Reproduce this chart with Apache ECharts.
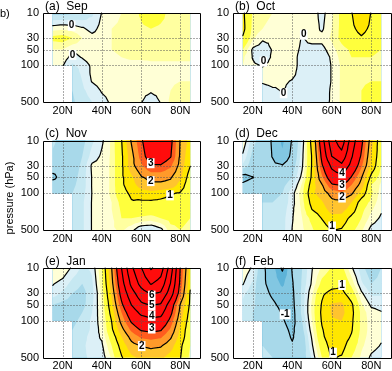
<!DOCTYPE html>
<html><head><meta charset="utf-8">
<script src="https://cdn.jsdelivr.net/npm/echarts@6/dist/echarts.min.js"></script>
<style>html,body{margin:0;padding:0;background:#fff}#c{width:392px;height:371px}</style>
</head><body><div id="c"></div>
<script>
const N = null;
const lats = [15,20,25,30,35,40,45,50,55,60,65,70,75,80,85];
const levels = [10,20,30,50,70,100,150,200,300,500];
const latTicks = [20,40,60,80];
const presTicks = [10,30,50,100,500];
const presGrid = [30,50,100];
const contourLevels = [-3,-2,-1,0,1,2,3,4,5,6,7,8,9];
const shadeLevels = [-2,-1.5,-1,-0.5,-0.25,0,0.25,0.5,1,1.5,2,2.5,3];
const shadeColors = ['#3d9fcc','#5db3d8','#82c7e2','#a8d9ea','#c6e8f2','#dcf0f7','#ffffd6','#ffffa0','#ffff3c','#ffe600','#ffc42e','#ff9a2a','#ff5c1e','#ff0c0c'];

const sep = [
 [-0.6,-0.6,-0.55,-0.5,-0.3,0.01,0.15,0.25,0.35,0.55,0.7,0.6,0.4,0.3,0.3],
 [0.15,0.2,0.15,0.05,-0.1,0.1,0.25,0.3,0.35,0.45,0.5,0.45,0.4,0.35,0.3],
 [0.6,0.65,0.5,0.25,0.1,0.15,0.25,0.3,0.35,0.4,0.4,0.4,0.35,0.3,0.3],
 [0.25,0.25,0.05,0.1,0.15,0.2,0.25,0.3,0.3,0.35,0.35,0.35,0.35,0.3,0.3],
 [0.2,0.15,-0.1,0.02,0.15,0.2,0.2,0.25,0.3,0.3,0.3,0.3,0.3,0.3,0.3],
 [0.1,0.02,-0.3,-0.15,0.05,0.15,0.15,0.15,0.15,0.15,0.2,0.2,0.2,0.2,0.2],
 [N,N,-0.5,-0.2,0.05,0.15,0.15,0.15,0.15,0.15,0.15,0.15,0.2,0.2,0.2],
 [N,N,-0.5,-0.25,0.02,0.12,0.15,0.15,0.15,0.12,0.12,0.15,0.2,0.25,0.25],
 [N,N,-0.5,-0.3,-0.15,0.03,0.1,0.15,0.12,0.1,0.05,0.1,0.25,0.35,0.35],
 [N,N,-0.55,-0.35,-0.25,-0.1,0.05,0.15,0.1,0.02,-0.2,0.02,0.3,0.4,0.35]
];
const oct = [
 [1.1,0.45,0.3,0.25,0.2,0.2,0.2,0.15,-0.1,0.2,0.6,0.98,1.4,0.98,0.7],
 [1.15,0.4,0.25,0.2,0.2,0.2,0.2,0.15,-0.05,0.25,0.6,0.9,1.15,0.9,0.7],
 [0.95,0.3,0.05,0.05,0.15,0.15,-0.02,0.1,0.1,0.3,0.6,0.8,0.95,0.8,0.6],
 [0.5,-0.05,-0.15,0.02,0.15,0.1,-0.05,-0.1,-0.1,0.15,0.4,0.55,0.6,0.55,0.5],
 [0.3,-0.02,-0.2,0.05,0.15,0.1,-0.1,-0.15,-0.2,0.05,0.35,0.5,0.5,0.5,0.45],
 [0.25,0.05,-0.02,0.1,0.15,0.1,-0.1,-0.2,-0.2,0.02,0.3,0.45,0.45,0.45,0.45],
 [N,N,0.1,0.15,0.15,0.05,-0.1,-0.2,-0.2,0.02,0.3,0.4,0.45,0.45,0.45],
 [N,N,0.05,0.1,0.05,-0.02,-0.15,-0.2,-0.2,0.02,0.3,0.4,0.45,0.5,0.5],
 [N,N,-0.15,-0.05,0.02,-0.1,-0.15,-0.2,-0.2,0.05,0.3,0.4,0.5,0.6,0.6],
 [N,N,-0.2,-0.2,-0.15,-0.15,-0.2,-0.25,-0.15,0.05,0.3,0.4,0.5,0.7,0.7]
];
const nov = [
 [-0.4,-0.7,-0.8,-0.6,-0.3,-0.05,0.3,0.98,2.05,2.9,3.6,3.7,3.2,1.95,1.3],
 [-0.6,-0.8,-0.7,-0.5,-0.15,0.05,0.3,0.9,1.8,2.7,3.4,3.5,3.05,1.9,1.1],
 [-0.8,-0.85,-0.65,-0.45,0.05,0.1,0.3,0.9,1.8,2.4,2.95,2.95,2.6,1.8,1.02],
 [-1.1,-0.85,-0.6,-0.4,0.02,0.1,0.3,0.9,1.4,1.95,2.15,2.15,2.05,1.6,0.7],
 [-0.8,-0.8,-0.55,-0.4,0.02,0.1,0.3,0.9,1.3,1.7,1.9,1.9,1.85,1.3,0.6],
 [-0.6,-0.6,-0.5,-0.35,0.01,0.1,0.3,0.8,1.1,1.3,1.35,1.25,1.05,0.95,0.6],
 [N,N,-0.45,-0.3,0.02,0.1,0.25,0.6,0.95,0.9,0.9,0.85,0.8,0.75,0.6],
 [N,N,-0.4,-0.3,0.02,0.1,0.25,0.55,0.7,0.7,0.7,0.7,0.7,0.7,0.6],
 [N,N,-0.4,-0.3,0.02,0.1,0.2,0.5,0.5,0.45,0.4,0.5,0.6,0.6,0.5],
 [N,N,-0.4,-0.3,0.02,0.1,0.2,0.3,0.1,-0.25,-0.3,-0.1,0.4,0.5,0.4]
];
const dec = [
 [0.2,-0.4,-0.7,-1.05,-1.6,-0.95,-0.2,1.2,3.6,5.6,6.6,4.5,3.2,1.7,0.6],
 [-0.05,-0.6,-0.75,-1.02,-1.4,-0.85,-0.1,1.05,3.2,5.0,5.6,4.1,2.9,1.5,0.6],
 [-0.3,-0.7,-0.75,-0.9,-0.97,-0.7,-0.05,1.05,2.9,4.2,4.8,3.7,2.6,1.4,0.5],
 [-1.2,-1.02,-0.7,-0.7,-0.75,-0.5,0.1,1.1,2.4,3.5,3.75,2.95,2.05,0.85,0.3],
 [-0.9,-0.75,-0.65,-0.6,-0.6,-0.3,0.3,1.25,1.95,2.9,3.05,2.5,1.8,0.5,0.2],
 [-0.6,-0.55,-0.6,-0.55,-0.5,-0.1,0.4,1.4,1.7,2.2,2.4,2.1,1.3,0.55,0.15],
 [N,N,-0.5,-0.5,-0.45,-0.1,0.35,1.2,1.45,1.85,1.9,1.5,0.75,0.4,0.1],
 [N,N,-0.5,-0.45,-0.4,-0.05,0.3,1.02,1.3,1.7,1.7,1.3,0.6,0.3,0.05],
 [N,N,-0.45,-0.4,-0.35,-0.02,0.25,0.6,1.02,1.35,1.3,0.85,0.5,0.15,-0.05],
 [N,N,-0.45,-0.4,-0.35,0.01,0.2,0.45,0.75,1.02,0.95,0.6,0.3,-0.1,-0.2]
];
const jan = [
 [0.3,0.2,-0.05,-0.3,-0.2,0.5,2.0,4.0,5.8,6.95,8.1,7.5,5.5,2.95,1.3],
 [0.02,-0.1,-0.35,-0.5,-0.3,0.4,1.8,3.6,5.2,6.3,7.05,6.6,4.95,2.8,1.1],
 [-0.1,-0.3,-0.5,-0.6,-0.35,0.3,1.6,3.3,4.6,5.6,6.1,5.9,4.5,2.6,0.95],
 [-0.5,-0.6,-0.6,-0.6,-0.3,0.25,1.35,2.85,4.0,4.8,5.05,4.9,3.5,1.95,0.9],
 [-0.7,-0.7,-0.6,-0.5,-0.25,0.2,1.2,2.5,3.5,4.2,4.4,4.3,3.2,1.8,0.8],
 [-0.65,-0.65,-0.55,-0.45,-0.2,0.15,1.02,2.2,3.1,3.6,3.8,3.7,2.8,1.6,0.7],
 [N,N,-0.5,-0.4,-0.2,0.1,0.9,1.8,2.6,3.05,3.15,3.05,2.4,1.4,0.6],
 [N,N,-0.45,-0.35,-0.15,0.05,0.7,1.5,2.2,2.6,2.7,2.6,2.1,1.3,0.6],
 [N,N,-0.4,-0.3,-0.15,-0.05,0.5,1.2,1.8,2.02,2.1,2.05,1.7,1.1,0.5],
 [N,N,-0.4,-0.3,-0.2,-0.15,0.3,0.95,1.4,1.6,1.7,1.6,1.3,1.02,0.4]
];
const feb = [
 [0.2,-0.05,-0.9,-1.3,-2.1,-0.95,-0.5,-0.02,0.3,0.52,0.6,0.05,-0.4,-0.7,-0.5],
 [0.02,-0.3,-0.9,-1.2,-1.6,-1.05,-0.45,0.05,0.6,0.8,0.9,0.4,-0.2,-0.5,-0.4],
 [-0.2,-0.4,-0.8,-1.1,-1.3,-1.1,-0.4,0.2,0.9,1.15,1.15,0.7,0.05,-0.3,-0.3],
 [-0.3,-0.45,-0.65,-0.9,-1.15,-1.15,-0.4,0.3,1.05,1.55,1.6,1.1,0.3,-0.05,-0.1],
 [-0.35,-0.5,-0.6,-0.75,-1.05,-1.2,-0.4,0.3,1.1,1.55,1.65,1.15,0.4,0.1,0.02],
 [-0.4,-0.5,-0.55,-0.7,-0.95,-1.2,-0.5,0.25,1.05,1.45,1.5,1.1,0.4,0.15,0.05],
 [N,N,-0.55,-0.65,-0.85,-1.1,-0.6,0.15,0.95,1.35,1.35,1.05,0.4,0.15,0.05],
 [N,N,-0.5,-0.6,-0.8,-1.05,-0.7,0.05,0.9,1.3,1.3,0.95,0.35,0.15,0.05],
 [N,N,-0.5,-0.55,-0.75,-0.95,-0.75,-0.05,0.7,1.2,1.2,0.7,0.3,0.1,-0.02],
 [N,N,-0.45,-0.5,-0.7,-0.9,-0.7,-0.2,0.5,1.05,0.95,0.5,0.2,-0.05,-0.15]
];
// contour labels: [lat, pressure, text]
const labA = [[24.6,17.5,'0'],[25.1,63,'0']];
const labB = [[25.4,85,'0'],[35.6,340,'0'],[45.8,26,'0']];
const labC = [[64.9,27,'3'],[64.9,59,'2'],[74.7,110,'1']];
const labD = [[65.2,42,'4'],[65.2,70,'3'],[65.2,121,'2'],[60.2,430,'1']];
const labE = [[65.4,33.5,'6'],[65.4,52,'5'],[65.4,81,'4'],[65.4,141,'3'],[60.3,304,'2']];
const labF = [[65.2,21,'1'],[36.4,76,'-1'],[60.7,406,'1']];

const panels = [
 {title:'(a)  Sep', data:sep, labels:labA, left:43, top:13, width:157, height:89},
 {title:'(b)  Oct', data:oct, labels:labB, left:233, top:13, width:158, height:89},
 {title:'(c)  Nov', data:nov, labels:labC, left:43, top:140.5, width:157, height:89.5},
 {title:'(d)  Dec', data:dec, labels:labD, left:233, top:140.5, width:158, height:89.5},
 {title:'(e)  Jan', data:jan, labels:labE, left:43, top:268, width:157, height:89.5},
 {title:'(f)  Feb', data:feb, labels:labF, left:233, top:268, width:158, height:89.5}
];

const FONT = '"Liberation Sans", Arial, sans-serif';

function clipPoly(poly, t) {
  if (t === -Infinity) return poly;
  const out = [];
  for (let i = 0; i < poly.length; i++) {
    const p = poly[i], q = poly[(i + 1) % poly.length];
    const pin = p[2] >= t, qin = q[2] >= t;
    if (pin) out.push(p);
    if (pin !== qin) {
      const s = (t - p[2]) / (q[2] - p[2]);
      out.push([p[0] + s * (q[0] - p[0]), p[1] + s * (q[1] - p[1]), t]);
    }
  }
  return out;
}
function f2(v){ return v.toFixed(2); }

function makeRender(panel) {
  return function (params, api) {
    if (params.dataIndex !== 0) return;
    const vals = panel.data;
    const nx = lats.length, ny = levels.length;
    const P = [];
    for (let j = 0; j < ny; j++) { P.push([]); for (let i = 0; i < nx; i++) P[j].push(api.coord([lats[i], levels[j]])); }
    const tris = [];
    for (let j = 0; j < ny - 1; j++) for (let i = 0; i < nx - 1; i++) {
      const v00 = vals[j][i], v10 = vals[j][i+1], v01 = vals[j+1][i], v11 = vals[j+1][i+1];
      if (v00 == null || v10 == null || v01 == null || v11 == null) continue;
      const a = [P[j][i][0], P[j][i][1], v00], b = [P[j][i+1][0], P[j][i+1][1], v10];
      const c = [P[j+1][i+1][0], P[j+1][i+1][1], v11], d = [P[j+1][i][0], P[j+1][i][1], v01];
      const m = [(a[0]+b[0]+c[0]+d[0])/4, (a[1]+b[1]+c[1]+d[1])/4, (v00+v10+v01+v11)/4];
      tris.push([a,b,m],[b,c,m],[c,d,m],[d,a,m]);
    }
    const children = [];
    for (let k = 0; k <= shadeLevels.length; k++) {
      const t = k === 0 ? -Infinity : shadeLevels[k-1];
      let d = '';
      for (const tri of tris) {
        const poly = clipPoly(tri, t);
        if (poly.length >= 3) d += 'M' + poly.map(p => f2(p[0]) + ' ' + f2(p[1])).join('L') + 'Z';
      }
      if (d) children.push({type:'path', shape:{pathData:d}, style:{fill:shadeColors[k], stroke:null}});
    }
    const tl = api.coord([10, 10]), br = api.coord([90, 500]);
    const x0 = Math.round(tl[0]) + 0.5, y0 = Math.round(tl[1]) + 0.5, x1 = Math.round(br[0]) + 0.5, y1 = Math.round(br[1]) + 0.5;
    let g = '';
    latTicks.forEach(lt => { const x = Math.round(api.coord([lt, 10])[0]) + 0.5; g += `M${x} ${y0}L${x} ${y1}`; });
    presGrid.forEach(pp => { const y = Math.round(api.coord([10, pp])[1]) + 0.5; g += `M${x0} ${y}L${x1} ${y}`; });
    children.push({type:'path', shape:{pathData:g}, style:{fill:null, stroke:'#555', lineWidth:1, lineDash:[1,2]}});
    let cd = '';
    for (const L of contourLevels) for (const tri of tris) {
      const pts = [];
      for (let e = 0; e < 3; e++) {
        const p = tri[e], q = tri[(e+1)%3];
        if ((p[2] >= L) !== (q[2] >= L)) {
          const s = (L - p[2]) / (q[2] - p[2]);
          pts.push([p[0] + s*(q[0]-p[0]), p[1] + s*(q[1]-p[1])]);
        }
      }
      if (pts.length === 2) cd += `M${f2(pts[0][0])} ${f2(pts[0][1])}L${f2(pts[1][0])} ${f2(pts[1][1])}`;
    }
    if (cd) children.push({type:'path', shape:{pathData:cd}, style:{fill:null, stroke:'#000', lineWidth:1.2, lineCap:'round', lineJoin:'round'}});
    children.push({type:'rect', shape:{x:x0, y:y0, width:x1-x0, height:y1-y0}, style:{fill:null, stroke:'#000', lineWidth:1}});
    panel.labels.forEach(lb => {
      const c = api.coord([lb[0], lb[1]]);
      children.push({type:'text', x:c[0], y:c[1], style:{text:lb[2], fill:'#000', font:'bold 10px ' + FONT, align:'center', verticalAlign:'middle', backgroundColor:'#fff', padding:[0,1,0,1]}});
    });
    latTicks.forEach(lt => {
      const c = api.coord([lt, 500]);
      children.push({type:'text', x:c[0], y:c[1] + 8.5, style:{text:lt + 'N', fill:'#000', font:'11px ' + FONT, align:'center', verticalAlign:'middle'}});
    });
    presTicks.forEach(pp => {
      const c = api.coord([10, pp]);
      children.push({type:'text', x:c[0] - 4, y:c[1], style:{text:String(pp), fill:'#000', font:'11px ' + FONT, align:'right', verticalAlign:'middle'}});
    });
    children.push({type:'text', x:tl[0] + 2, y:tl[1] - 6.5, style:{text:panel.title, fill:'#000', font:'12px ' + FONT, align:'left', verticalAlign:'middle'}});
    return {type:'group', children};
  };
}

const chart = echarts.init(document.getElementById('c'), null, {renderer:'canvas'});
chart.setOption({
  animation:false,
  grid: panels.map(p => ({left:p.left, top:p.top, width:p.width, height:p.height, show:false})),
  xAxis: panels.map((p,i) => ({type:'value', gridIndex:i, min:10, max:90, show:false})),
  yAxis: panels.map((p,i) => ({type:'log', logBase:10, gridIndex:i, min:10, max:500, inverse:true, show:false})),
  series: panels.map((p,i) => ({type:'custom', xAxisIndex:i, yAxisIndex:i, coordinateSystem:'cartesian2d', data:[[50,100]], renderItem:makeRender(p), clip:false, silent:true, z:2})),
  graphic: [
    {type:'text', x:0, y:13.5, style:{text:'b)', fill:'#000', font:'11px ' + FONT, align:'left', verticalAlign:'middle'}},
    {type:'text', x:10, y:198, rotation:Math.PI/2, style:{text:'pressure (hPa)', fill:'#000', font:'11px ' + FONT, align:'center', verticalAlign:'middle'}}
  ]
});
</script></body></html>
